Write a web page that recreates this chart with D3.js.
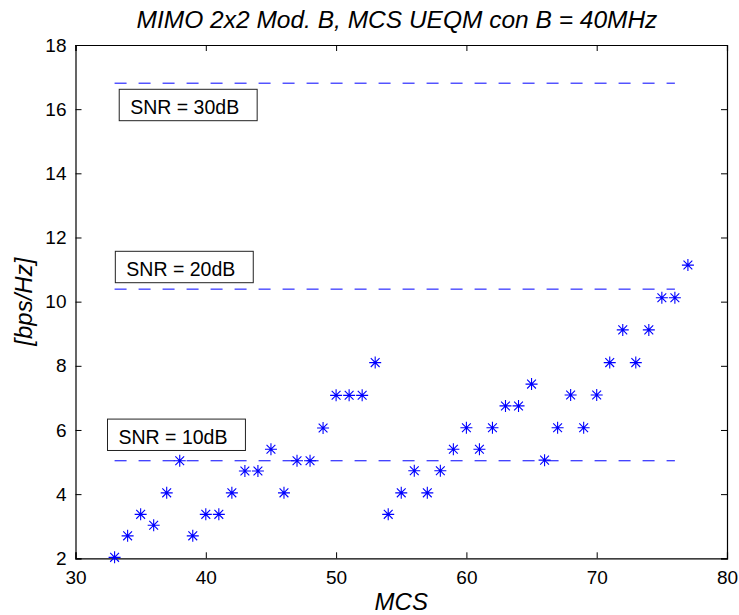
<!DOCTYPE html>
<html>
<head>
<meta charset="utf-8">
<script src="https://cdn.jsdelivr.net/npm/d3@7"></script>
<style>
  html, body { margin: 0; padding: 0; background: #fff; }
  svg { display: block; font-family: "Liberation Sans", Arial, Helvetica, sans-serif; }
</style>
</head>
<body>
<svg id="chart" width="739" height="615"></svg>
<script>
// MCS index and achieved spectral efficiency [bps/Hz]
const mcs = [33, 34, 35, 36, 37, 38, 39, 40, 41, 42, 43, 44, 45, 46, 47, 48, 49, 50, 51, 52, 53,
             54, 55, 56, 57, 58, 59, 60, 61, 62, 63, 64, 65, 66, 67, 68, 69, 70, 71, 72, 73, 74, 75, 76, 77];
const efficiency = [2.03, 2.70, 3.37, 3.03, 4.04, 5.04, 2.70, 3.37, 3.37, 4.04, 4.72, 4.72, 5.40, 4.04, 5.04, 5.04, 6.06, 7.08, 7.08, 7.08, 8.10,
                    3.37, 4.04, 4.73, 4.04, 4.73, 5.40, 6.07, 5.40, 6.07, 6.75, 6.75, 7.43, 5.06, 6.07, 7.09, 6.07, 7.09, 8.10, 9.12, 8.10, 9.12, 10.12, 10.12, 11.14];

// Capacity reference levels for each SNR
const snrLabels = ["SNR = 10dB", "SNR = 20dB", "SNR = 30dB"];
const snrCapacity = [5.04, 10.39, 16.81];
const snrRange = [33, 76];
// label anchors (left edge, vertical middle) in data units
const snrLabelX = [33.3, 33.9, 34.2];
const snrLabelY = [5.85, 11.08, 16.13];

const xTicks = [30, 40, 50, 60, 70, 80];
const yTicks = [2, 4, 6, 8, 10, 12, 14, 16, 18];

const titleText = "MIMO 2x2 Mod. B, MCS UEQM con B = 40MHz";
const xLabelText = "MCS";
const yLabelText = "[bps/Hz]";

const svg = d3.select("#chart");
const plotLeft = 75.5, plotRight = 727, plotTop = 45, plotBottom = 558.3;

const x = d3.scaleLinear().domain([30, 80]).range([plotLeft, plotRight]);
const y = d3.scaleLinear().domain([2, 18]).range([plotBottom, plotTop]);

const blue = "#0000ff";
const tickLen = 6;

// axes: ticks pointing inward on all four sides
const axisBottom = d3.axisBottom(x).tickValues(xTicks).tickSize(-tickLen).tickPadding(12).tickFormat(d3.format("d"));
const axisTop = d3.axisTop(x).tickValues(xTicks).tickSize(-tickLen).tickFormat("");
const axisLeft = d3.axisLeft(y).tickValues(yTicks).tickSize(-tickLen).tickPadding(9).tickFormat(d3.format("d"));
const axisRight = d3.axisRight(y).tickValues(yTicks).tickSize(-tickLen).tickFormat("");

function styleAxis(g) {
  g.selectAll(".domain").attr("stroke", "#000").attr("stroke-width", 1.2);
  g.selectAll(".tick line").attr("stroke", "#000").attr("stroke-width", 1);
  g.selectAll(".tick text").attr("fill", "#000").style("font-size", "19px")
    .style("font-family", "'Liberation Sans', Arial, Helvetica, sans-serif");
}

svg.append("g").attr("transform", `translate(0,${plotBottom})`).call(axisBottom).call(styleAxis)
  .selectAll(".tick text").attr("dy", "0.71em");
svg.append("g").attr("transform", `translate(0,${plotTop})`).call(axisTop).call(styleAxis);
svg.append("g").attr("transform", `translate(${plotLeft},0)`).call(axisLeft).call(styleAxis);
svg.append("g").attr("transform", `translate(${plotRight},0)`).call(axisRight).call(styleAxis);

// reference capacity lines
svg.append("g").selectAll("line").data(snrCapacity).join("line")
  .attr("x1", x(snrRange[0])).attr("x2", x(snrRange[1]))
  .attr("y1", d => y(d)).attr("y2", d => y(d))
  .attr("stroke", blue).attr("stroke-width", 1)
  .attr("stroke-dasharray", "12,12");

// boxed SNR labels
const labels = svg.append("g").selectAll("g").data(snrLabels).join("g");
labels.each(function (t, i) {
  const g = d3.select(this);
  const lx = x(snrLabelX[i]);
  const my = y(snrLabelY[i]);
  const txt = g.append("text")
    .attr("x", lx).attr("y", my + 9)
    .attr("fill", "#000").style("font-size", "19.5px")
    .text(t);
  const w = txt.node().getComputedTextLength();
  g.insert("rect", "text")
    .attr("x", lx - 11).attr("y", my - 15.7)
    .attr("width", w + 29).attr("height", 31.4)
    .attr("fill", "#fff").attr("stroke", "#222").attr("stroke-width", 1);
});

// asterisk markers
const r = 6, rd = 4.4;
const star = `M${-r},0L${r},0M0,${-r}L0,${r}M${-rd},${-rd}L${rd},${rd}M${-rd},${rd}L${rd},${-rd}`;
svg.append("g").selectAll("path").data(mcs).join("path")
  .attr("transform", (d, i) => `translate(${x(d)},${y(efficiency[i])})`)
  .attr("d", star)
  .attr("fill", "none").attr("stroke", blue).attr("stroke-width", 1.1);

// titles
svg.append("text")
  .attr("x", 397).attr("y", 28)
  .attr("text-anchor", "middle")
  .style("font-size", "24.5px").style("font-style", "italic")
  .text(titleText);

svg.append("text")
  .attr("x", (plotLeft + plotRight) / 2).attr("y", 610)
  .attr("text-anchor", "middle")
  .style("font-size", "24px").style("font-style", "italic")
  .text(xLabelText);

svg.append("text")
  .attr("transform", `translate(32,${(plotTop + plotBottom) / 2}) rotate(-90)`)
  .attr("text-anchor", "middle")
  .style("font-size", "24px").style("font-style", "italic")
  .text(yLabelText);
</script>
</body>
</html>
